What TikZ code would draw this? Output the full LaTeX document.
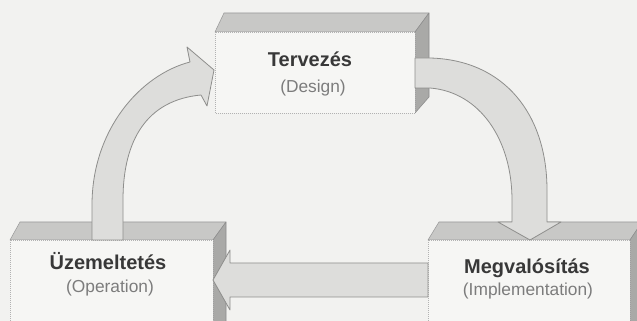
\documentclass[tikz,border=0pt]{standalone}
\usepackage{fontspec}
\setmainfont{Liberation Sans}
\usepackage{tikz}
\usetikzlibrary{positioning}

\definecolor{bgpaper}{HTML}{F2F2F0}
\definecolor{facefront}{HTML}{F6F6F4}
\definecolor{facetop}{HTML}{C8C8C6}
\definecolor{faceside}{HTML}{A9A9A7}
\definecolor{arrowfill}{HTML}{DDDDDB}
\definecolor{arrowedge}{HTML}{8E8E8C}
\definecolor{titlegray}{HTML}{383838}
\definecolor{subgray}{HTML}{7C7C7C}

\begin{document}
\begin{tikzpicture}[x=0.75pt,y=0.75pt,yscale=-1,xscale=1,
  front/.style={fill=facefront,draw=black!30,densely dotted,line width=0.5pt},
  topface/.style={fill=facetop,draw=black!40,line width=0.4pt,line join=round},
  sideface/.style={fill=faceside,draw=black!45,line width=0.4pt,line join=round},
  blockarrow/.style={fill=arrowfill,draw=arrowedge,line width=0.6pt,line join=round},
  title/.style={anchor=base,inner sep=0pt,font=\fontsize{15}{18}\selectfont\bfseries,text=titlegray},
  subtitle/.style={anchor=base,inner sep=0pt,font=\fontsize{13}{16}\selectfont,text=subgray}]
\useasboundingbox (0,0) rectangle (637,321);
\fill[bgpaper] (0,0) rectangle (637,321);

%Shape: Box [id:tervezes]
\draw[topface] (215,32) -- (224,13) -- (429,13) -- (415,32) -- cycle;
\draw[sideface] (415,32) -- (429,13) -- (429,97) -- (415,113) -- cycle;
\draw[front] (215,32) rectangle (415,113);

%Shape: Box [id:uzemeltetes]
\draw[topface] (10,240) -- (20,222) -- (226,222) -- (213,240) -- cycle;
\draw[sideface] (213,240) -- (226,222) -- (226,330) -- (213,330) -- cycle;
\draw[front] (10,240) rectangle (213,330);

%Shape: Box [id:megvalositas]
\draw[topface] (428,240) -- (439,222) -- (642,222) -- (630,240) -- cycle;
\draw[sideface] (630,240) -- (642,222) -- (642,330) -- (630,330) -- cycle;
\draw[front] (428,240) rectangle (630,330);

%Shape: Block Arrow [id:op-to-design]
\draw[blockarrow] (92,240) -- (92,205) .. controls (92,130) and (140,75) .. (190,62)
  -- (187,47) -- (214,70) -- (207,106) -- (201,95)
  .. controls (147,100) and (123,140) .. (123,200) -- (123,240) -- cycle;

%Shape: Block Arrow [id:design-to-impl]
\draw[blockarrow] (415,58) -- (430,58) .. controls (505,60) and (547,115) .. (547,190)
  -- (547,222) -- (561,222) -- (530,240) -- (498,222) -- (512,222) -- (512,200)
  .. controls (512,140) and (480,92) .. (430,88) -- (415,88) -- cycle;

%Shape: Block Arrow [id:impl-to-op]
\draw[blockarrow] (428,263) -- (230,263) -- (230,250) -- (213,280) -- (230,310)
  -- (230,297) -- (428,297) -- cycle;

%Text
\node[title] (tervezes) at (310,67) {Tervezés};
\node[subtitle] (design) at (313,93) {(Design)};
\node[title] (uzemeltetes) at (108,270) {Üzemeltetés};
\node[subtitle] (operation) at (110,293) {(Operation)};
\node[title] (megvalositas) at (527,274) {Megvalósítás};
\node[subtitle] (implementation) at (528,296) {(Implementation)};

\end{tikzpicture}
\end{document}
